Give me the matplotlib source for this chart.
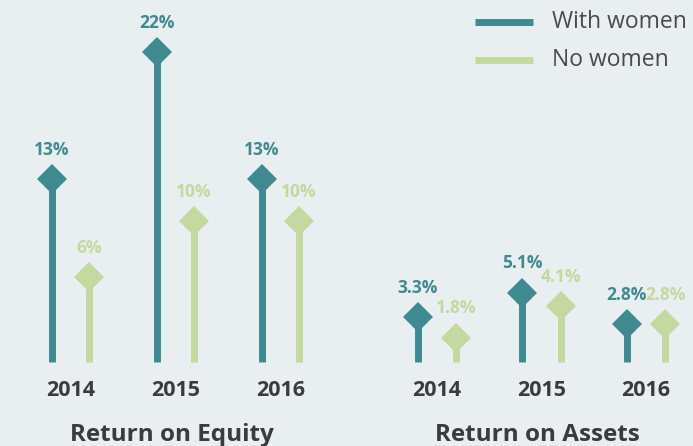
import matplotlib.pyplot as plt
from matplotlib.lines import Line2D

years = ["2014", "2015", "2016"]
roe_with = [13, 22, 13]
roe_without = [6, 10, 10]
roa_with = [3.3, 5.1, 2.8]
roa_without = [1.8, 4.1, 2.8]

TEAL = "#3f8a91"
GREEN = "#c3d9a0"
BG = "#e9eef1"
DARK = "#3b3b3b"

plt.rcParams["font.family"] = ["Open Sans", "DejaVu Sans"]

W, H = 693, 446
fig = plt.figure(figsize=(W / 100, H / 100), dpi=100, facecolor=BG)

base_px = 362  # baseline, pixels from top


def make_panel(px_left, px_right, center0, spacing, px_per_unit, offset,
               with_vals, without_vals, title, title_x):
    ax = fig.add_axes([px_left / W, (H - base_px) / H,
                       (px_right - px_left) / W, base_px / H])
    ax.set_facecolor("none")
    ax.set_xlim((px_left - center0) / spacing, (px_right - center0) / spacing)
    ax.set_ylim(0, base_px / px_per_unit)
    ax.axis("off")

    for i, (vw, vn) in enumerate(zip(with_vals, without_vals)):
        for x, v, c in [(i - offset, vw, TEAL), (i + offset, vn, GREEN)]:
            ax.plot([x, x], [0, v], color=c, lw=5, solid_capstyle="butt",
                    zorder=2, clip_on=False)
            ax.plot(x, v, marker="D", ms=15.5, color=c, mew=0, zorder=3,
                    clip_on=False)
            ax.annotate(f"{v:g}%", (x, v), xytext=(0, 21),
                        textcoords="offset points", ha="center", va="center",
                        color=c, fontsize=12.5, fontweight="bold",
                        annotation_clip=False)
        ax.text(i, -28 / base_px, years[i], transform=ax.get_xaxis_transform(),
                ha="center", va="center", color=DARK, fontsize=15.5,
                fontweight="bold")

    fig.text(title_x / W, (H - 435) / H, title, ha="center", va="center",
             color=DARK, fontsize=17.5, fontweight="bold")
    return ax


make_panel(0, 350, 70.5, 105, 14.1, 0.176, roe_with, roe_without,
           "Return on Equity", 172)
make_panel(350, 693, 437, 104.5, 13.6, 0.184, roa_with, roa_without,
           "Return on Assets", 537)

# legend
for y, c, lab in [(22, TEAL, "With women"), (60, GREEN, "No women")]:
    fig.add_artist(Line2D([475 / W, 533 / W], [(H - y) / H, (H - y) / H],
                          color=c, lw=5, solid_capstyle="butt"))
    fig.text(552 / W, (H - y) / H, lab, ha="left", va="center",
             color="#4a4a4a", fontsize=16.5)

fig.savefig("out.png", dpi=100, facecolor=BG)
